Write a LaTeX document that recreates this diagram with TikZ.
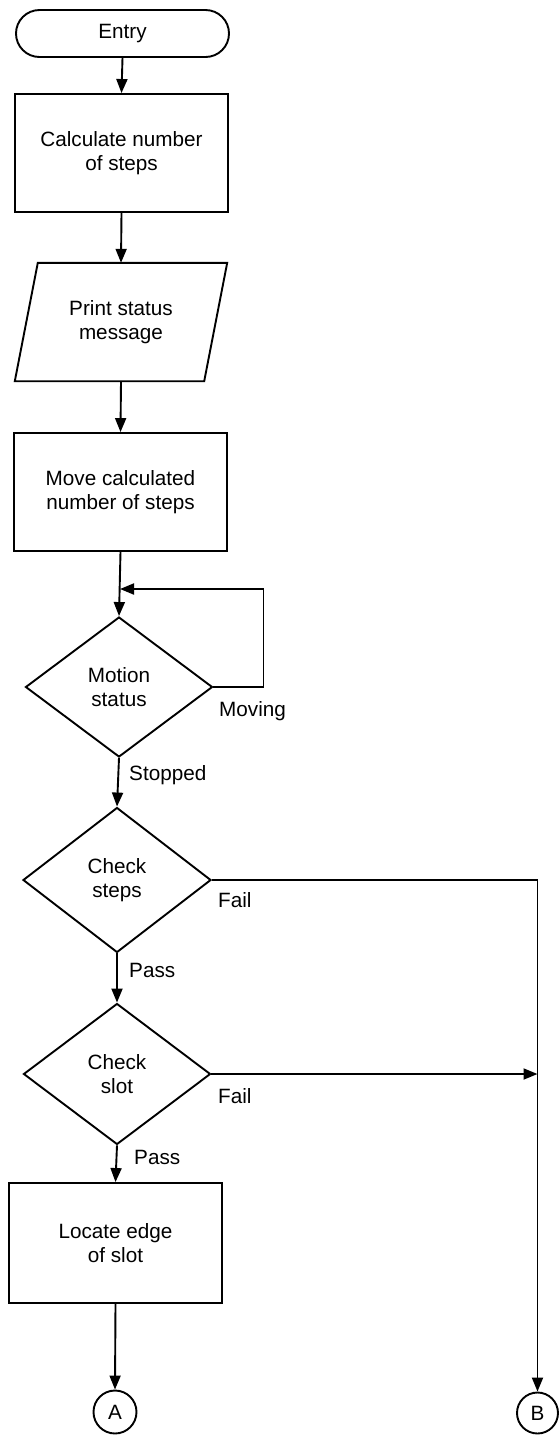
\documentclass[tikz,border=0pt]{standalone}
\usepackage{fontspec}
\setmainfont{Liberation Sans}
\usetikzlibrary{shapes.geometric,arrows.meta}
\begin{document}
\begin{tikzpicture}[x=1pt,y=-1pt,
  every node/.style={font=\fontsize{20.7}{23.5}\selectfont, align=center, inner sep=0pt},
  line/.style={line width=1.9pt},
  arr/.style={line width=1.9pt, -{Triangle[length=14pt,width=11pt]}},
  procbox/.style={draw, line width=1.9pt, rectangle, minimum width=213pt, minimum height=118pt},
  decide/.style={draw, line width=1.9pt, diamond, aspect=1.3, minimum width=188pt, minimum height=142pt},
  term/.style={draw, line width=1.9pt, rectangle, rounded corners=23.5pt, minimum width=213pt, minimum height=47pt},
  conn/.style={draw, line width=1.9pt, circle, minimum size=43pt},
  lbl/.style={anchor=base west}]
\useasboundingbox (0,0) rectangle (559,1436);

\node[term] (entry) at (122.5,33.5) {Entry};
\node[procbox] (calc) at (121.5,153) {Calculate number\\of steps};
\node[minimum width=212pt, minimum height=118pt] (print) at (121,322) {Print status\\message};
\draw[line] ([xshift=23pt]print.north west) -- (print.north east) -- ([xshift=-23pt]print.south east) -- (print.south west) -- cycle;
\node[procbox] (move) at (120.5,492) {Move calculated\\number of steps};
\node[decide, minimum width=187pt, minimum height=140pt] (motion) at (119,687) {Motion\\status};
\node[decide, minimum height=145pt] (steps) at (117,880) {Check\\steps};
\node[decide, minimum width=187pt, minimum height=141pt] (slot) at (117,1074) {Check\\slot};
\node[procbox, minimum width=213pt, minimum height=120pt] (locate) at (115.5,1243) {Locate edge\\of slot};
\node[conn] (A) at (115,1412) {A};
\node[conn, minimum size=41pt] (B) at (537.5,1413) {B};

\coordinate (j) at (120,589);

\draw[arr] (entry.south) -- (calc.north);
\draw[arr] (calc.south) -- (print.south |- print.north);
\draw[arr] (print.south) -- (move.north);
\draw[arr] (move.south) -- (motion.north);
\draw[arr] (motion.east) -- ++(50,0) |- (j);
\draw[arr] (motion.south) -- (steps.north);
\draw[arr] (steps.south) -- (slot.north);
\draw[arr] (slot.south) -- (locate.north);
\draw[arr] (locate.south) -- (A.north);
\draw[arr] (steps.east) -| (B.north);
\draw[arr] (slot.east) -- (slot.east -| B.north);

\node[lbl] (lmoving) at (219,716) {Moving};
\node[lbl] (lstopped) at (129,780) {Stopped};
\node[lbl] (lfail1) at (218,907) {Fail};
\node[lbl] (lpass1) at (129,977) {Pass};
\node[lbl] (lfail2) at (218,1103) {Fail};
\node[lbl] (lpass2) at (134,1164) {Pass};
\end{tikzpicture}
\end{document}
